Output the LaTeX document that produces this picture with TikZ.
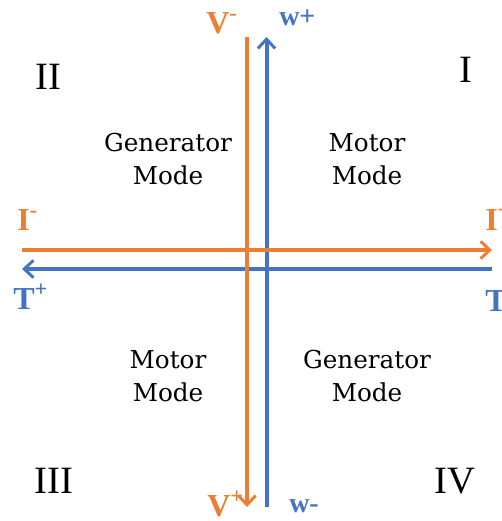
\documentclass[tikz,border=0pt]{standalone}
\usepackage{fontspec}
\setmainfont{Liberation Serif}
\newfontfamily\modefont{DejaVu Serif}
\usetikzlibrary{arrows.meta}
\definecolor{orng}{HTML}{ED7D31}
\definecolor{blu}{HTML}{4472C4}
\tikzset{
  axis/.style={line width=3pt, -{Straight Barb[length=7pt,width=13pt,line width=2.2pt]}},
  modetext/.style={font=\modefont\fontsize{18.5}{24.5}\selectfont, align=center, text=black},
  quad/.style={font=\fontsize{29}{32}\selectfont, text=black},
  olab/.style={font=\bfseries\fontsize{24}{26}\selectfont, text=orng, inner sep=0pt},
  blab/.style={font=\bfseries\fontsize{21}{22}\selectfont, text=blu, inner sep=0pt},
}
\begin{document}
\begin{tikzpicture}[x=0.75pt,y=-0.75pt]
\useasboundingbox (0,0) rectangle (502,521);
\clip (0,0) rectangle (502,521);
% endpoints
\coordinate (vbT) at (266.5,37);
\coordinate (vbB) at (266.5,507);
\coordinate (voT) at (247,37);
\coordinate (voB) at (247,507);
\coordinate (hoL) at (22,250);
\coordinate (hoR) at (492,250);
\coordinate (hbL) at (22,269);
\coordinate (hbR) at (492,269);
% blue axes
\draw[axis, blu] (vbB) -- (vbT);
\draw[axis, blu] (hbR) -- (hbL);
% orange axes
\draw[axis, orng] (hoL) -- (hoR);
\draw[axis, orng] (voT) -- (voB);
% quadrant numerals
\node[quad] (q2) at (48,77) {II};
\node[quad] (q1) at (466,70) {I};
\node[quad] (q3) at (54,481) {III};
\node[quad] (q4) at (455,481) {IV};
% mode texts
\node[modetext] (m2) at (168,159) {Generator\\Mode};
\node[modetext] (m1) at (367,159) {Motor\\Mode};
\node[modetext] (m3) at (168,376) {Motor\\Mode};
\node[modetext] (m4) at (367,376) {Generator\\Mode};
% axis labels
\node[olab, anchor=base west] (vm) at (206,33) {V\textsuperscript{-}};
\node[blab, anchor=base west] (wp) at (279,26) {w+};
\node[olab, anchor=base west] (vp) at (207,516) {V\textsuperscript{+}};
\node[blab, anchor=base west] (wm) at (289,512) {w-};
\node[olab, anchor=base west] (im) at (17,230) {I\textsuperscript{-}};
\node[olab, anchor=base west] (ip) at (485,230) {I\textsuperscript{+}};
\node[olab, anchor=base west, text=blu] (tp) at (13,309) {T\textsuperscript{+}};
\node[olab, anchor=base west, text=blu] (tm) at (485,311) {T\textsuperscript{-}};
\end{tikzpicture}
\end{document}
